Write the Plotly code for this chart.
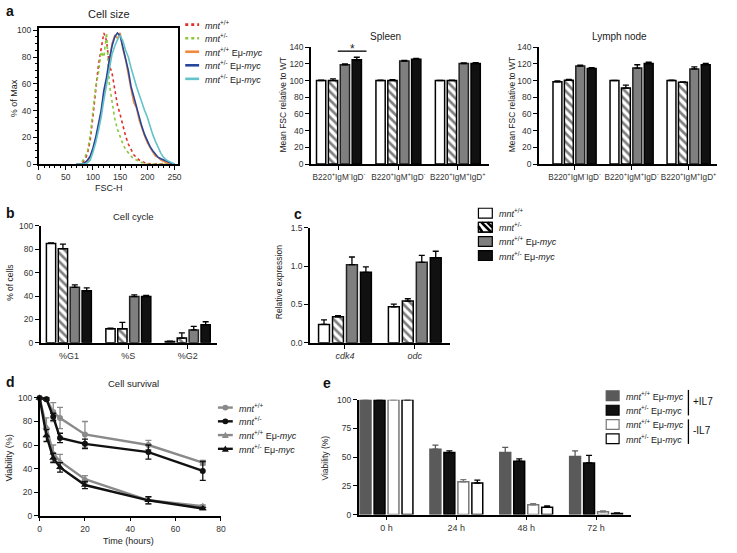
import plotly.graph_objects as go

W, H = 737, 553
FONT = "Liberation Sans, Arial, sans-serif"
TXT = "#222"

# ---------------- data ----------------
# panel a: FSC histograms
fsc_h = [70, 75, 80, 85, 90, 95, 100, 105, 110, 115, 120, 125, 130, 135, 140, 145, 150, 155, 160,
         165, 170, 175, 180, 185, 190, 195, 200, 205, 210, 215, 220, 225, 230, 235, 240, 245, 250]
hist_wt = [0, 0, 1, 3, 8, 18, 36, 56, 74, 86, 98, 92, 74, 68, 55, 44, 37, 28, 21, 15, 11, 7, 5, 3, 2,
           1, 1, 0, 0, 0, 0, 0, 0, 0, 0, 0, 0]
hist_het = [0, 0, 2, 5, 10, 22, 40, 58, 68, 84, 80, 98, 60, 45, 34, 26, 20, 15, 11, 8, 6, 4, 3, 2, 1,
            1, 0, 0, 0, 0, 0, 0, 0, 0, 0, 0, 0]
hist_myc_wt = [0, 0, 0, 1, 2, 5, 11, 18, 28, 38, 52, 62, 75, 90, 96, 94, 98, 86, 78, 66, 56, 46, 42,
               33, 26, 21, 16, 12, 9, 6, 5, 3, 2, 1, 1, 0, 0]
hist_myc_het = [0, 0, 0, 1, 3, 6, 12, 20, 30, 40, 55, 65, 78, 88, 95, 98, 96, 88, 80, 70, 58, 50, 44,
                34, 28, 22, 17, 13, 10, 7, 5, 4, 3, 2, 1, 0.5, 0]
hist_myc_het2 = [0, 0, 0, 0, 1, 3, 9, 16, 25, 35, 48, 60, 72, 82, 88, 93, 96, 92, 85, 80, 72, 64, 58,
                 52, 45, 40, 35, 28, 22, 17, 12, 8, 5, 3, 2, 1, 0]

# panel a: mean FSC bars
b_groups = ["g1", "g2", "g3"]
b_group_labels = ["B220<sup>+</sup>IgM<sup>-</sup>IgD<sup>-</sup>",
                  "B220<sup>+</sup>IgM<sup>+</sup>IgD<sup>-</sup>",
                  "B220<sup>+</sup>IgM<sup>+</sup>IgD<sup>+</sup>"]
spleen_wt = [100, 100, 100]
spleen_wt_err = [0.5, 0.5, 0.3]
spleen_het = [100, 100, 100]
spleen_het_err = [2, 1, 0.5]
spleen_myc_wt = [119, 123.5, 120.5]
spleen_myc_wt_err = [1, 0.8, 0.8]
spleen_myc_het = [125, 125.5, 120.5]
spleen_myc_het_err = [3, 1, 1]

lymph_wt = [98.5, 100, 100]
lymph_wt_err = [1, 0.3, 0.5]
lymph_het = [100.5, 91, 98]
lymph_het_err = [1, 3.5, 0.5]
lymph_myc_wt = [117.5, 115, 114]
lymph_myc_wt_err = [1, 4, 2.5]
lymph_myc_het = [114.5, 120.5, 119]
lymph_myc_het_err = [1, 1.5, 1.5]

# panel b: cell cycle
phases = ["%G1", "%S", "%G2"]
cc_wt = [85, 12, 1]
cc_wt_err = [0.5, 0.6, 0.3]
cc_het = [80.5, 12, 4]
cc_het_err = [4, 5.5, 4.5]
cc_myc_wt = [47.5, 39.5, 11]
cc_myc_wt_err = [2, 1.5, 3]
cc_myc_het = [44.5, 39.5, 15.5]
cc_myc_het_err = [2.5, 1, 2.5]

# panel c: relative expression
genes = ["cdk4", "odc"]
expr_wt = [0.24, 0.47]
expr_wt_err = [0.06, 0.035]
expr_het = [0.34, 0.545]
expr_het_err = [0.015, 0.03]
expr_myc_wt = [1.02, 1.05]
expr_myc_wt_err = [0.1, 0.09]
expr_myc_het = [0.92, 1.11]
expr_myc_het_err = [0.07, 0.085]

# panel d: cell survival
hours = [0, 3, 6, 9, 20, 48, 72]
surv_wt = [100, 99, 88, 83, 69, 60, 45]
surv_wt_err = [0.5, 1, 8, 9, 11, 4, 2]
surv_het = [100, 99, 84, 66, 61, 54, 38]
surv_het_err = [0.5, 1, 3, 4, 4, 6, 8]
surv_myc_wt = [100, 75, 53, 46, 31, 13, 8]
surv_myc_wt_err = [0.5, 8, 7, 6, 3, 3, 1]
surv_myc_het = [100, 68, 49, 41, 26, 13, 6]
surv_myc_het_err = [0.5, 5, 4, 4, 3, 3, 1]

# panel e: IL7 viability
il7_times = ["0 h", "24 h", "48 h", "72 h"]
e_myc_wt_il7 = [100, 57, 54, 50.5]
e_myc_wt_il7_err = [0, 3.5, 4.5, 5]
e_myc_het_il7 = [100, 54, 46.5, 45]
e_myc_het_il7_err = [0, 1.5, 2, 6.5]
e_myc_wt_no = [100, 28.5, 8.5, 2.5]
e_myc_wt_no_err = [0, 2, 1, 0.8]
e_myc_het_no = [100, 27.5, 6.5, 1]
e_myc_het_no_err = [0, 2.5, 1, 0.5]

# ---------------- helpers ----------------
def fx(px):
    return px / W


def fy(py):
    return 1 - py / H


def dom_x(a, b):
    return [fx(a), fx(b)]


def dom_y(top, bottom):
    return [fy(bottom), fy(top)]


def err(arr, color="black"):
    return dict(type="data", array=arr, arrayminus=[0] * len(arr), symmetric=False,
                thickness=1.3, width=3, color=color)


GRAY = "#7f7f7f"
BLK = "#111111"

fig = go.Figure()


def bars4(xs, vals, errs, ax, ay):
    specs = [
        dict(marker=dict(color="white", line=dict(color="black", width=1.5))),
        dict(marker=dict(color="white", line=dict(color="black", width=1.5),
                         pattern=dict(shape="\\", fgcolor="black", bgcolor="white", size=6,
                                      solidity=0.45))),
        dict(marker=dict(color=GRAY, line=dict(color="#222", width=1.5))),
        dict(marker=dict(color=BLK, line=dict(color="black", width=1.5))),
    ]
    for v, e, s in zip(vals, errs, specs):
        fig.add_trace(go.Bar(x=xs, y=v, error_y=err(e), xaxis=ax, yaxis=ay,
                             showlegend=False, **s))


# panel a histogram
hist_specs = [
    (hist_wt, "#e0302a", "dot"),
    (hist_het, "#8cc63e", "dot"),
    (hist_myc_wt, "#f08a3c", "solid"),
    (hist_myc_het, "#26469c", "solid"),
    (hist_myc_het2, "#62c3c8", "solid"),
]
for y, c, d in hist_specs:
    fig.add_trace(go.Scatter(x=fsc_h, y=y, mode="lines", line=dict(color=c, width=1.6, dash=d),
                             xaxis="x", yaxis="y", showlegend=False))

bars4(b_groups, [spleen_wt, spleen_het, spleen_myc_wt, spleen_myc_het],
      [spleen_wt_err, spleen_het_err, spleen_myc_wt_err, spleen_myc_het_err], "x2", "y2")
bars4(b_groups, [lymph_wt, lymph_het, lymph_myc_wt, lymph_myc_het],
      [lymph_wt_err, lymph_het_err, lymph_myc_wt_err, lymph_myc_het_err], "x3", "y3")
bars4(phases, [cc_wt, cc_het, cc_myc_wt, cc_myc_het],
      [cc_wt_err, cc_het_err, cc_myc_wt_err, cc_myc_het_err], "x4", "y4")
bars4(genes, [expr_wt, expr_het, expr_myc_wt, expr_myc_het],
      [expr_wt_err, expr_het_err, expr_myc_wt_err, expr_myc_het_err], "x5", "y5")

# panel d
surv_specs = [
    (surv_wt, surv_wt_err, "#8a8a8a", "circle", 6),
    (surv_het, surv_het_err, "#111111", "circle", 6),
    (surv_myc_wt, surv_myc_wt_err, "#8a8a8a", "triangle-up", 7),
    (surv_myc_het, surv_myc_het_err, "#111111", "triangle-up", 7),
]
for y, e, c, sym, sz in surv_specs:
    fig.add_trace(go.Scatter(x=hours, y=y, mode="lines+markers",
                             line=dict(color=c, width=2.4),
                             marker=dict(color=c, symbol=sym, size=sz),
                             error_y=dict(type="data", array=e, color=c, thickness=1.3, width=3),
                             xaxis="x6", yaxis="y6", showlegend=False, cliponaxis=False))

# panel e
E_GRAY = "#5a5a5a"
e_specs = [
    (e_myc_wt_il7, e_myc_wt_il7_err, dict(color=E_GRAY, line=dict(color=E_GRAY, width=1.5)), E_GRAY),
    (e_myc_het_il7, e_myc_het_il7_err, dict(color=BLK, line=dict(color="black", width=1.5)), "black"),
    (e_myc_wt_no, e_myc_wt_no_err, dict(color="white", line=dict(color="#777", width=1.5)), "#777"),
    (e_myc_het_no, e_myc_het_no_err, dict(color="white", line=dict(color="black", width=1.5)), "black"),
]
for v, e, m, ec in e_specs:
    fig.add_trace(go.Bar(x=il7_times, y=v, marker=m, error_y=err(e, ec),
                         xaxis="x7", yaxis="y7", showlegend=False))

# ---------------- axes ----------------
def axis(**kw):
    base = dict(showline=True, linecolor="black", linewidth=1.5, ticks="outside", ticklen=4,
                tickwidth=1.2, tickcolor="black", showgrid=False, zeroline=False, tickangle=0,
                tickfont=dict(family=FONT, size=8.5, color="#333"), fixedrange=True)
    base.update(kw)
    return base


grp_font = dict(family=FONT, size=8.2, color="#333")

layout_axes = dict(
    xaxis=axis(domain=dom_x(37, 178), range=[0, 257], anchor="y", mirror=True,
               tickvals=[0, 50, 100, 150, 200, 250],
               minor=dict(ticks="outside", ticklen=2, tickwidth=1, tickcolor="black", dtick=10)),
    yaxis=axis(domain=dom_y(23, 162), range=[0, 102], anchor="x", mirror=True,
               tickvals=[0, 20, 40, 60, 80, 100],
               minor=dict(ticks="outside", ticklen=2, tickwidth=1, tickcolor="black", dtick=5)),
    xaxis2=axis(domain=dom_x(312, 492), range=[-0.47, 2.53], anchor="y2",
                tickvals=b_groups, ticktext=b_group_labels, tickfont=grp_font),
    yaxis2=axis(domain=dom_y(43, 162), range=[0, 140], anchor="x2", dtick=20),
    xaxis3=axis(domain=dom_x(542, 722), range=[-0.626, 2.5], anchor="y3",
                tickvals=b_groups, ticktext=b_group_labels, tickfont=grp_font),
    yaxis3=axis(domain=dom_y(43, 162), range=[0, 140], anchor="x3", dtick=20),
    xaxis4=axis(domain=dom_x(39, 217), range=[-0.475, 2.49], anchor="y4",
                tickfont=dict(family=FONT, size=9, color="#333")),
    yaxis4=axis(domain=dom_y(225, 344), range=[0, 100], anchor="x4", dtick=20),
    xaxis5=axis(domain=dom_x(311, 452), range=[-0.5, 1.5], anchor="y5",
                tickvals=genes, ticktext=["<i>" + g + "</i>" for g in genes],
                tickfont=dict(family=FONT, size=9, color="#333")),
    yaxis5=axis(domain=dom_y(227, 344), range=[0, 1.5], anchor="x5",
                tickvals=[0, 0.5, 1.0, 1.5], ticktext=["0.0", "0.5", "1.0", "1.5"]),
    xaxis6=axis(domain=dom_x(38, 221), range=[0, 80], anchor="y6", dtick=20),
    yaxis6=axis(domain=dom_y(399, 520), range=[0, 101], anchor="x6", tickvals=[0, 20, 40, 60, 80, 100]),
    xaxis7=axis(domain=dom_x(360, 635), range=[-0.4, 3.5], anchor="y7",
                tickfont=dict(family=FONT, size=9, color="#333")),
    yaxis7=axis(domain=dom_y(402, 519), range=[0, 100], anchor="x7", dtick=25),
)

# ---------------- annotations ----------------
anns = []


def ann(text, x, y, size=9, xanchor="center", yanchor="middle", angle=0, color=TXT):
    anns.append(dict(text=text, x=fx(x), y=fy(y), xref="paper", yref="paper", showarrow=False,
                     xanchor=xanchor, yanchor=yanchor, textangle=angle,
                     font=dict(family=FONT, size=size, color=color)))


# panel letters
for t, x, y in [("a", 2, 6), ("b", 2, 212), ("c", 293, 213), ("d", 2, 384), ("e", 322, 385)]:
    ann("<b>" + t + "</b>", x, y, size=14, xanchor="left", color="#111")

# titles
ann("Cell size", 108, 9, size=11)
ann("Spleen", 387, 32, size=10)
ann("Lymph node", 623, 32, size=10)
ann("Cell cycle", 133, 215, size=9.5)
ann("Cell survival", 133, 385, size=9.5)

# axis titles
ann("% of Max", 12, 95, size=9, angle=-90)
ann("FSC-H", 108, 186, size=9)
ann("Mean FSC relative to WT", 284, 102, size=8.5, angle=-90)
ann("Mean FSC relative to WT", 515, 102, size=8.5, angle=-90)
ann("% of cells", 8, 283, size=8.5, angle=-90)
ann("Relative expression", 280, 282, size=8.5, angle=-90)
ann("Viability (%)", 7, 461, size=9, angle=-90)
ann("Time (hours)", 128, 546, size=9)
ann("Viability (%)", 326, 461, size=8.5, angle=-90)

mnt_wt = "<i>mnt</i><sup>+/+</sup>"
mnt_het = "<i>mnt</i><sup>+/-</sup>"
emyc = " Eμ-<i>myc</i>"

shapes = []


def line_px(x0, y0, x1, y1, color="black", width=1.5, dash="solid"):
    shapes.append(dict(type="line", xref="paper", yref="paper", x0=fx(x0), y0=fy(y0),
                       x1=fx(x1), y1=fy(y1), line=dict(color=color, width=width, dash=dash)))


def rect_px(x0, y0, x1, y1, fill, lc="black", lw=1.2):
    shapes.append(dict(type="rect", xref="paper", yref="paper", x0=fx(x0), y0=fy(y0),
                       x1=fx(x1), y1=fy(y1), fillcolor=fill, line=dict(color=lc, width=lw)))


# histogram legend
hist_leg = [(mnt_wt, "#e0302a", "dot"), (mnt_het, "#8cc63e", "dot"),
            (mnt_wt + emyc, "#f08a3c", "solid"), (mnt_het + emyc, "#26469c", "solid"),
            (mnt_het + emyc, "#62c3c8", "solid")]
for i, (t, c, d) in enumerate(hist_leg):
    yy = 20 + i * 13.8
    line_px(185, yy, 199, yy, color=c, width=2.6, dash=d)
    ann(t, 203, yy, size=9, xanchor="left")

# significance in spleen
line_px(339, 47, 368, 47, width=1.3)
ann("*", 354, 45, size=12)

# bar legend (b/c)
bl = [(mnt_wt, "white"), (mnt_het, "hatch"), (mnt_wt + emyc, GRAY), (mnt_het + emyc, BLK)]
for i, (t, f) in enumerate(bl):
    yc = 212 + i * 14.4
    if f == "hatch":
        rect_px(481, yc - 5, 495, yc + 5, "white")
        for (a, b, c2, d2) in [(481, yc - 1, 485, yc + 5), (484, yc - 5, 494, yc + 5),
                               (490, yc - 5, 495, yc)]:
            line_px(a, b, c2, d2, width=2.6)
        rect_px(481, yc - 5, 495, yc + 5, "rgba(0,0,0,0)")
    else:
        rect_px(481, yc - 5, 495, yc + 5, f)
    ann(t, 500, yc, size=9, xanchor="left")

# survival legend
sl = [(mnt_wt, "#8a8a8a", "circle"), (mnt_het, "#111111", "circle"),
      (mnt_wt + emyc, "#8a8a8a", "tri"), (mnt_het + emyc, "#111111", "tri")]
for i, (t, c, m) in enumerate(sl):
    yc = 410 + i * 14
    line_px(218, yc, 233, yc, color=c, width=2.4)
    if m == "circle":
        shapes.append(dict(type="circle", xref="paper", yref="paper", x0=fx(222.5), x1=fx(228.5),
                           y0=fy(yc + 3), y1=fy(yc - 3), fillcolor=c, line=dict(color=c, width=0)))
    else:
        shapes.append(dict(type="path", xref="paper", yref="paper",
                           path="M %f %f L %f %f L %f %f Z" % (fx(222), fy(yc + 3), fx(229), fy(yc + 3),
                                                                fx(225.5), fy(yc - 3.5)),
                           fillcolor=c, line=dict(color=c, width=0)))
    ann(t, 237, yc, size=9, xanchor="left")

# e legend
el = [(mnt_wt + emyc, E_GRAY, E_GRAY), (mnt_het + emyc, BLK, "black"),
      (mnt_wt + emyc, "white", "#777"), (mnt_het + emyc, "white", "black")]
for i, (t, f, lc) in enumerate(el):
    yc = 398 + i * 14.6
    rect_px(610, yc - 5, 623, yc + 5, f, lc=lc, lw=1.2)
    ann(t, 628, yc, size=9, xanchor="left")
line_px(693, 392, 693, 418, width=1.3)
line_px(693, 422, 693, 447, width=1.3)
ann("+IL7", 696, 404, size=10, xanchor="left", color="#111")
ann("-IL7", 696, 433, size=10, xanchor="left", color="#111")

fig.update_layout(
    width=W, height=H, margin=dict(l=0, r=0, t=0, b=0),
    paper_bgcolor="white", plot_bgcolor="white",
    barmode="group", bargap=0.2, bargroupgap=0.22,
    font=dict(family=FONT, size=9, color=TXT),
    showlegend=False, annotations=anns, shapes=shapes,
    **layout_axes,
)

fig.write_html("out.html", config={"displayModeBar": False},
               post_script="document.body.style.margin='0';document.body.style.overflow='hidden';")
